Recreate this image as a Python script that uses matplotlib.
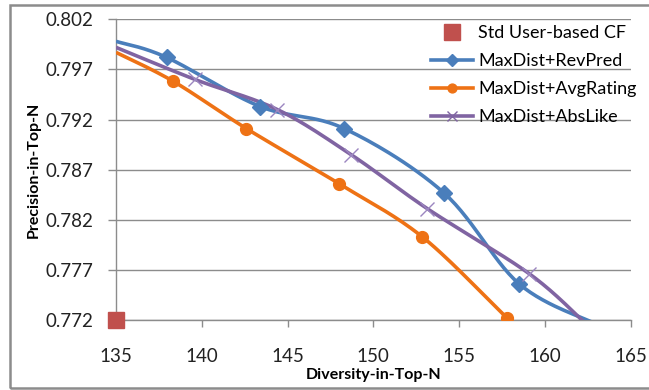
import numpy as np
import matplotlib
matplotlib.use("Agg")
import matplotlib.pyplot as plt
from matplotlib.patches import Rectangle

plt.rcParams['font.family'] = ['Lato', 'DejaVu Sans']

# data (first/last entries are where the lines leave the plot)
std_x = [135]
std_y = [0.772]

rev_x = [135.0, 137.95, 143.4, 148.3, 154.1, 158.5, 163.0]
rev_y = [0.7998, 0.7982, 0.7933, 0.7911, 0.7847, 0.7756, 0.7716]

avg_x = [135.0, 138.35, 142.6, 148.0, 152.85, 157.8, 158.4]
avg_y = [0.7987, 0.7958, 0.7911, 0.7856, 0.7803, 0.7722, 0.7716]

abs_x = [135.0, 139.6, 144.4, 148.7, 153.15, 159.1, 162.4]
abs_y = [0.7992, 0.7960, 0.7930, 0.7885, 0.7831, 0.7766, 0.7716]

x_ticks = [135, 140, 145, 150, 155, 160, 165]
y_ticks = [0.772, 0.777, 0.782, 0.787, 0.792, 0.797, 0.802]


def smooth(xs, ys, sx=514 / 30, sy=300 / 0.03, n=30):
    # Catmull-Rom curve through the points, like Excel's "smoothed line"
    p = np.column_stack([np.asarray(xs) * sx, np.asarray(ys) * sy])
    p = np.vstack([p[0], p, p[-1]])
    out = []
    t = np.linspace(0, 1, n)[:, None]
    for i in range(1, len(p) - 2):
        p0, p1, p2, p3 = p[i - 1], p[i], p[i + 1], p[i + 2]
        c1 = p1 + (p2 - p0) / 6
        c2 = p2 - (p3 - p1) / 6
        seg = ((1 - t) ** 3) * p1 + 3 * ((1 - t) ** 2) * t * c1 + 3 * (1 - t) * t ** 2 * c2 + t ** 3 * p2
        out.append(seg)
    out = np.vstack(out)
    return out[:, 0] / sx, out[:, 1] / sy


fig = plt.figure(figsize=(6.49, 3.90), dpi=100)
ax = fig.add_axes([116 / 649, 1 - 320 / 390, (630.7 - 116) / 649, (320 - 19.3) / 390])

blue = '#4A7EBB'
orange = '#EE7215'
purple = '#8064A2'
red = '#C0504D'

series = [
    (rev_x, rev_y, blue, 'D', 8, 'MaxDist+RevPred'),
    (avg_x, avg_y, orange, 'o', 8.5, 'MaxDist+AvgRating'),
    (abs_x, abs_y, purple, 'x', 10, 'MaxDist+AbsLike'),
]

handles = []
h = ax.plot(std_x, std_y, 's', color=red, ms=11.5, clip_on=False, zorder=5,
            label='Std User-based CF', linestyle='none')[0]
handles.append(h)
for xs, ys, c, m, ms, lab in series:
    sx_, sy_ = smooth(xs, ys)
    ax.plot(sx_, sy_, color=c, lw=2.6, solid_capstyle='butt', zorder=3)
    if m == 'x':
        ax.plot(xs[1:-1], ys[1:-1], m, color='#9B86C0', ms=ms, mew=1.0, zorder=4)
    else:
        ax.plot(xs[1:-1], ys[1:-1], m, color=c, ms=ms, zorder=4)
    h = ax.plot([], [], color=c, lw=2.6, marker=m, ms=ms * 0.75,
                mew=1.0 if m == 'x' else 1, label=lab)[0]
    handles.append(h)

ax.set_xlim(135, 165)
ax.set_ylim(0.772, 0.802)
ax.set_xticks(x_ticks)
ax.set_yticks(y_ticks)
ax.set_yticklabels([f'{v:.3f}' for v in y_ticks])
ax.grid(axis='y', color='#8c8c8c', lw=1.0)
ax.set_axisbelow(True)
for s in ['top', 'right']:
    ax.spines[s].set_visible(False)
for s in ['left', 'bottom']:
    ax.spines[s].set_color('#8c8c8c')
    ax.spines[s].set_linewidth(1.0)
ax.tick_params(axis='both', colors='#8c8c8c', labelcolor='#222222', labelsize=13.5,
               width=1.0)
ax.tick_params(axis='x', length=5, pad=15)
ax.tick_params(axis='y', length=6, pad=10)

ax.set_xlabel('Diversity-in-Top-N', fontsize=11.5, fontweight='bold', labelpad=2)
ax.set_ylabel('Precision-in-Top-N', fontsize=11.5, fontweight='bold', labelpad=4)

leg = fig.legend(handles=handles, loc='upper left', bbox_to_anchor=(424 / 649, 1 - 18 / 390),
                 frameon=False, fontsize=13, handlelength=2.3, handletextpad=0.3,
                 labelspacing=0.66, borderaxespad=0)

# outer chart border
fig.patches.append(Rectangle((10 / 649, 1 - 388 / 390), 1.0, (388 - 5) / 390,
                             transform=fig.transFigure, fill=False, ec='#8c8c8c', lw=1.8))

fig.savefig('out.png', dpi=100)
